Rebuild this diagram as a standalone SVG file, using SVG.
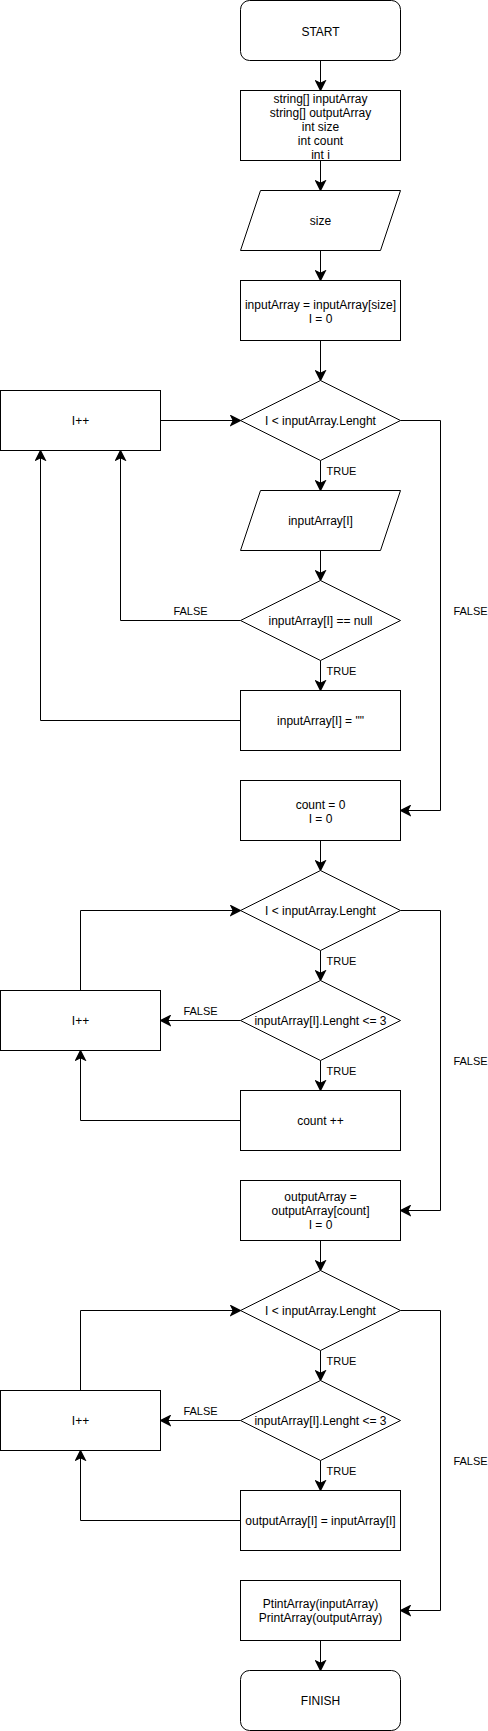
<svg xmlns="http://www.w3.org/2000/svg" width="488" height="1731" viewBox="0 0 488 1731">
<style>
.n{fill:#fff;stroke:#000;stroke-width:1}
.t{font-family:"Liberation Sans",Arial,sans-serif;font-size:12px;fill:#000;text-anchor:middle}
.l{font-family:"Liberation Sans",Arial,sans-serif;font-size:11px;fill:#000}
.c{fill:none;stroke:#000;stroke-width:1}
</style>
<defs>
<marker id="a" markerUnits="userSpaceOnUse" markerWidth="12" markerHeight="12" viewBox="-9 -5 10 10" refX="0" refY="0" orient="auto">
<path d="M0,0 L-8,-4 L-6,0 L-8,4 Z" fill="#000" stroke="#000" stroke-width="1"/>
</marker>
</defs>
<rect width="488" height="1731" fill="#fff"/>
<g transform="translate(0.5,0.5)">
<g id="connectors">
<path class="c" marker-end="url(#a)" d="M320,60 V90"/>
<path class="c" marker-end="url(#a)" d="M320,160 V190"/>
<path class="c" marker-end="url(#a)" d="M320,250 V280"/>
<path class="c" marker-end="url(#a)" d="M320,340 V380"/>
<path class="c" marker-end="url(#a)" d="M320,460 V490"/>
<path class="c" marker-end="url(#a)" d="M320,550 V580"/>
<path class="c" marker-end="url(#a)" d="M320,660 V690"/>
<path class="c" marker-end="url(#a)" d="M320,840 V870"/>
<path class="c" marker-end="url(#a)" d="M320,950 V980"/>
<path class="c" marker-end="url(#a)" d="M320,1060 V1090"/>
<path class="c" marker-end="url(#a)" d="M320,1240 V1270"/>
<path class="c" marker-end="url(#a)" d="M320,1350 V1380"/>
<path class="c" marker-end="url(#a)" d="M320,1460 V1490"/>
<path class="c" marker-end="url(#a)" d="M320,1640 V1670"/>
<path class="c" marker-end="url(#a)" d="M160,420 H240"/>
<path class="c" marker-end="url(#a)" d="M240,620 H120 V450"/>
<path class="c" marker-end="url(#a)" d="M240,720 H40 V450"/>
<path class="c" marker-end="url(#a)" d="M400,420 H440 V810 H400"/>
<path class="c" marker-end="url(#a)" d="M80,990 V910 H240"/>
<path class="c" marker-end="url(#a)" d="M240,1020 H160"/>
<path class="c" marker-end="url(#a)" d="M240,1120 H80 V1050"/>
<path class="c" marker-end="url(#a)" d="M400,910 H440 V1210 H400"/>
<path class="c" marker-end="url(#a)" d="M80,1390 V1310 H240"/>
<path class="c" marker-end="url(#a)" d="M240,1420 H160"/>
<path class="c" marker-end="url(#a)" d="M240,1520 H80 V1450"/>
<path class="c" marker-end="url(#a)" d="M400,1310 H440 V1610 H400"/>
<text class="l" x="326" y="474">TRUE</text>
<text class="l" x="326" y="674">TRUE</text>
<text class="l" x="326" y="964">TRUE</text>
<text class="l" x="326" y="1074">TRUE</text>
<text class="l" x="326" y="1364">TRUE</text>
<text class="l" x="326" y="1474">TRUE</text>
<text class="l" x="190" y="614" text-anchor="middle">FALSE</text>
<text class="l" x="200" y="1014" text-anchor="middle">FALSE</text>
<text class="l" x="200" y="1414" text-anchor="middle">FALSE</text>
<text class="l" x="470" y="614" text-anchor="middle">FALSE</text>
<text class="l" x="470" y="1064" text-anchor="middle">FALSE</text>
<text class="l" x="470" y="1464" text-anchor="middle">FALSE</text>
</g>
<g id="start"><rect class="n" x="240" y="0" width="160" height="60" rx="9" ry="9"/><text class="t" x="320" y="35">START</text></g>
<g id="vars"><rect class="n" x="240" y="90" width="160" height="70"/>
<text class="t" x="320" y="102">string[] inputArray</text>
<text class="t" x="320" y="116">string[] outputArray</text>
<text class="t" x="320" y="130">int size</text>
<text class="t" x="320" y="144">int count</text>
<text class="t" x="320" y="158">int i</text></g>
<g id="inputSize"><path class="n" d="M260,190 H400 L380,250 H240 Z"/><text class="t" x="320" y="224">size</text></g>
<g id="init1"><rect class="n" x="240" y="280" width="160" height="60"/>
<text class="t" x="320" y="308">inputArray = inputArray[size]</text>
<text class="t" x="320" y="322">I = 0</text></g>
<g id="cond1"><path class="n" d="M320,380 L400,420 L320,460 L240,420 Z"/><text class="t" x="320" y="424">I &lt; inputArray.Lenght</text></g>
<g id="inc1"><rect class="n" x="0" y="390" width="160" height="60"/><text class="t" x="80" y="424">I++</text></g>
<g id="inputElem"><path class="n" d="M260,490 H400 L380,550 H240 Z"/><text class="t" x="320" y="524">inputArray[I]</text></g>
<g id="nullCheck"><path class="n" d="M320,580 L400,620 L320,660 L240,620 Z"/><text class="t" x="320" y="624">inputArray[I] == null</text></g>
<g id="setEmpty"><rect class="n" x="240" y="690" width="160" height="60"/><text class="t" x="320" y="724">inputArray[I] = ""</text></g>
<g id="init2"><rect class="n" x="240" y="780" width="160" height="60"/>
<text class="t" x="320" y="808">count = 0</text>
<text class="t" x="320" y="822">I = 0</text></g>
<g id="cond2"><path class="n" d="M320,870 L400,910 L320,950 L240,910 Z"/><text class="t" x="320" y="914">I &lt; inputArray.Lenght</text></g>
<g id="lenCheck1"><path class="n" d="M320,980 L400,1020 L320,1060 L240,1020 Z"/><text class="t" x="320" y="1024">inputArray[I].Lenght &lt;= 3</text></g>
<g id="inc2"><rect class="n" x="0" y="990" width="160" height="60"/><text class="t" x="80" y="1024">I++</text></g>
<g id="countInc"><rect class="n" x="240" y="1090" width="160" height="60"/><text class="t" x="320" y="1124">count ++</text></g>
<g id="init3"><rect class="n" x="240" y="1180" width="160" height="60"/>
<text class="t" x="320" y="1200">outputArray =</text>
<text class="t" x="320" y="1214">outputArray[count]</text>
<text class="t" x="320" y="1228">I = 0</text></g>
<g id="cond3"><path class="n" d="M320,1270 L400,1310 L320,1350 L240,1310 Z"/><text class="t" x="320" y="1314">I &lt; inputArray.Lenght</text></g>
<g id="lenCheck2"><path class="n" d="M320,1380 L400,1420 L320,1460 L240,1420 Z"/><text class="t" x="320" y="1424">inputArray[I].Lenght &lt;= 3</text></g>
<g id="inc3"><rect class="n" x="0" y="1390" width="160" height="60"/><text class="t" x="80" y="1424">I++</text></g>
<g id="copy"><rect class="n" x="240" y="1490" width="160" height="60"/><text class="t" x="320" y="1524">outputArray[I] = inputArray[I]</text></g>
<g id="print"><rect class="n" x="240" y="1580" width="160" height="60"/>
<text class="t" x="320" y="1607">PtintArray(inputArray)</text>
<text class="t" x="320" y="1621">PrintArray(outputArray)</text></g>
<g id="finish"><rect class="n" x="240" y="1670" width="160" height="60" rx="9" ry="9"/><text class="t" x="320" y="1704">FINISH</text></g>
</g>
</svg>
